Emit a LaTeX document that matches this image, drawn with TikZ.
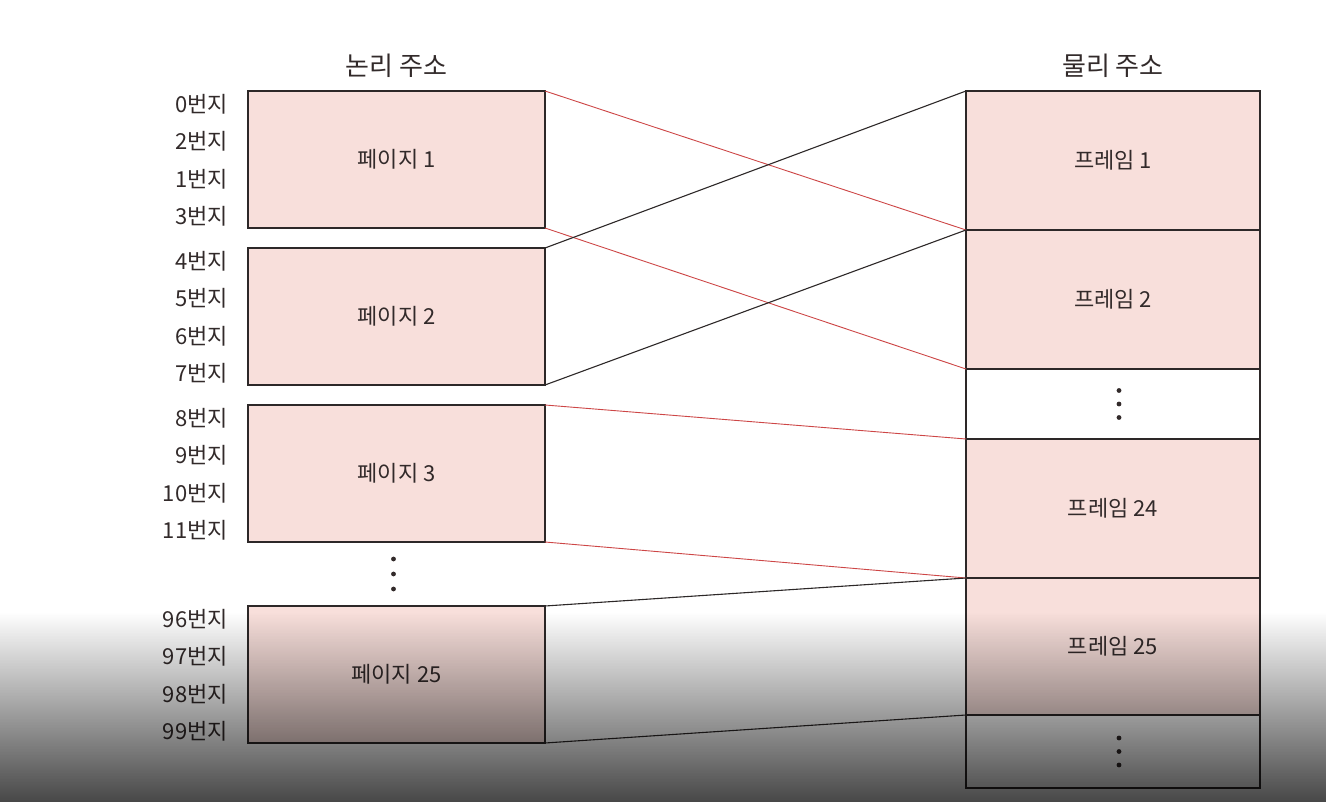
\documentclass[tikz,border=0pt]{standalone}
\usepackage{fontspec}
\newfontfamily\kr{Noto Sans CJK KR}
\usetikzlibrary{positioning,calc,fadings}

\definecolor{pagefill}{RGB}{248,223,219}
\definecolor{linecol}{RGB}{45,40,40}
\definecolor{linkred}{RGB}{205,70,70}
\definecolor{textcol}{RGB}{50,42,42}

\begin{document}
\begin{tikzpicture}[
    x=1pt, y=1pt,
    font=\kr\fontsize{22}{26}\selectfont,
    text=textcol,
    node distance=20pt and 0pt,
    page/.style={draw=linecol, line width=1.3pt, fill=pagefill, minimum width=297pt, minimum height=137pt, inner sep=0pt, outer sep=0pt},
    frame/.style={draw=linecol, line width=1.3pt, fill=pagefill, minimum width=294pt, minimum height=139pt, inner sep=0pt, outer sep=0pt},
    gapbox/.style={draw=linecol, line width=1.3pt, fill=white, minimum width=294pt, minimum height=70pt, inner sep=0pt, outer sep=0pt},
    addr/.style={anchor=east, inner sep=0pt},
    head/.style={font=\kr\fontsize{26}{30}\selectfont},
    dot/.style={fill=textcol},
    redlink/.style={draw=linkred, line width=0.9pt},
    blacklink/.style={draw=linecol, line width=1.1pt}
  ]
    \useasboundingbox (0,0) rectangle (1330,-802);
    \fill[white] (0,0) rectangle (1330,-802);

    % logical pages
    \node[page] (page1) at (396.5,-159.5) {페이지 1};
    \node[page, below=of page1] (page2) {페이지 2};
    \node[page, below=of page2] (page3) {페이지 3};
    \node[page, below=64pt of page3] (page25) {페이지 25};
    \coordinate (ldots) at ($(page3.south)!0.5!(page25.north)$);
    \foreach \d in {-1,0,1}
      \fill[dot] ([xshift=-3pt, yshift=\d*15pt]ldots) circle (2.4pt);
    \node[head, above=10pt of page1] (lhead) {논리 주소};

    % addresses
    \foreach \lab [count=\i from 0] in {0,2,1,3}
      \node[addr] (a1-\i) at ([xshift=-20pt, yshift={-13pt-37.5pt*\i}]page1.north west) {\lab{}번지};
    \foreach \lab [count=\i from 0] in {4,5,6,7}
      \node[addr] (a2-\i) at ([xshift=-20pt, yshift={-13pt-37.5pt*\i}]page2.north west) {\lab{}번지};
    \foreach \lab [count=\i from 0] in {8,9,10,11}
      \node[addr] (a3-\i) at ([xshift=-20pt, yshift={-13pt-37.5pt*\i}]page3.north west) {\lab{}번지};
    \foreach \lab [count=\i from 0] in {96,97,98,99}
      \node[addr] (a25-\i) at ([xshift=-20pt, yshift={-13pt-37.5pt*\i}]page25.north west) {\lab{}번지};

    % physical frames
    \node[frame] (frame1) at (1113,-160.5) {프레임 1};
    \node[frame, below=0pt of frame1] (frame2) {프레임 2};
    \node[gapbox, below=0pt of frame2] (gap1) {};
    \node[frame, below=0pt of gap1] (frame24) {프레임 24};
    \node[frame, minimum height=137pt, below=0pt of frame24] (frame25) {프레임 25};
    \node[gapbox, minimum height=73pt, below=0pt of frame25] (gap2) {};
    \foreach \d in {-1,0,1} {
      \fill[dot] ([xshift=6pt, yshift=\d*13.5pt]gap1.center) circle (2.4pt);
      \fill[dot] ([xshift=6pt, yshift=\d*13.5pt]gap2.center) circle (2.4pt);
    }
    \node[head, above=10pt of frame1] (rhead) {물리 주소};

    % mapping
    \draw[redlink] (page1.north east) -- (frame2.north west);
    \draw[redlink] (page1.south east) -- (frame2.south west);
    \draw[blacklink] (page2.north east) -- (frame1.north west);
    \draw[blacklink] (page2.south east) -- (frame1.south west);
    \draw[redlink] (page3.north east) -- (frame24.north west);
    \draw[redlink] (page3.south east) -- (frame24.south west);
    \draw[blacklink] (page25.north east) -- (frame25.north west);
    \draw[blacklink] (page25.south east) -- (frame25.south west);

    % darkening at the bottom
    \fill[black, opacity=0.72, path fading=north] (0,-612) rectangle (1330,-802);
  \end{tikzpicture}
\end{document}
